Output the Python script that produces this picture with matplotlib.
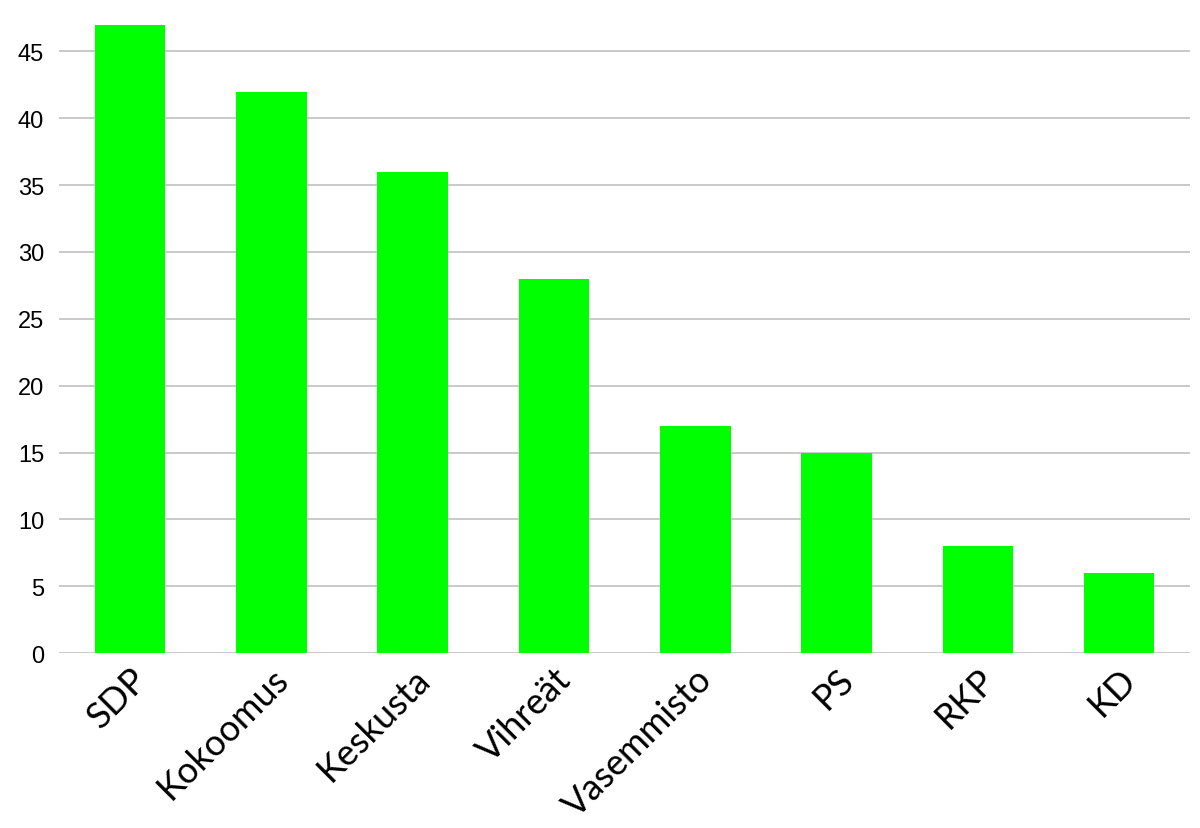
import matplotlib
matplotlib.use("Agg")
import matplotlib.pyplot as plt

parties = ["SDP", "Kokoomus", "Keskusta", "Vihreät", "Vasemmisto", "PS", "RKP", "KD"]
seats = [47, 42, 36, 28, 17, 15, 8, 6]
yticks = [0, 5, 10, 15, 20, 25, 30, 35, 40, 45]

fig = plt.figure(figsize=(12, 8.29), dpi=100)
ax = fig.add_axes([0.0495, 0.211, 0.942, 0.758])

ax.bar(range(len(parties)), seats, width=0.5, color="#00ff00", zorder=3)

ax.set_xlim(-0.5, len(parties) - 0.5)
ax.set_ylim(0, 47)
ax.set_yticks(yticks)
ax.set_yticklabels([str(v) for v in yticks], family="Liberation Sans", fontsize=17)
ax.grid(axis="y", color="#c0c0c0", linewidth=1.2, zorder=0)
ax.tick_params(length=0, pad=11)
ax.tick_params(axis="x", pad=6)

ax.set_xticks(range(len(parties)))
ax.set_xticklabels(parties, rotation=45, ha="right", rotation_mode="anchor",
                   family="Lato", color="black", fontsize=26)

for s in ax.spines.values():
    s.set_visible(False)

fig.savefig("out.png", dpi=100)
